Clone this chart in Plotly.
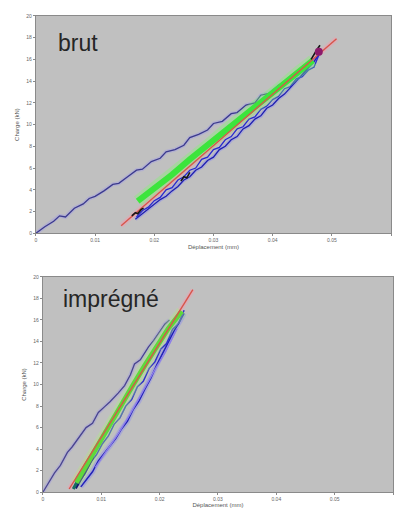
import plotly.graph_objects as go

# ---------------- data: top panel "brut" ----------------
top_first_x = [0, 0.0015, 0.003, 0.004, 0.005, 0.0065, 0.008, 0.009, 0.010, 0.0115, 0.013, 0.014, 0.0155,
               0.017, 0.018, 0.0195, 0.021, 0.022, 0.0235, 0.025, 0.026, 0.0275, 0.029, 0.030, 0.0315, 0.033,
               0.034, 0.0355, 0.037, 0.038, 0.0395, 0.041, 0.042, 0.0435, 0.045, 0.046, 0.0475]
top_first_y = [0, 0.6, 1.1, 1.6, 1.5, 2.3, 2.7, 3.2, 3.4, 3.9, 4.5, 4.6, 5.2, 5.8, 5.9, 6.6, 6.9, 7.5, 7.7,
               8.1, 8.8, 9.1, 9.5, 10.1, 10.3, 11.0, 11.1, 11.8, 12.0, 12.7, 12.9, 13.6, 13.8, 14.5, 14.9,
               15.4, 16.2]

top_blue_a_x = [0.0168, 0.018, 0.019, 0.020, 0.021, 0.022, 0.023, 0.024, 0.025, 0.026, 0.027, 0.028, 0.029,
                0.030, 0.031, 0.032, 0.033, 0.034, 0.035, 0.036, 0.037, 0.038, 0.039, 0.040, 0.041, 0.042,
                0.043, 0.044, 0.045, 0.046, 0.047, 0.048]
top_blue_a_y = [1.3, 1.8, 2.2, 2.6, 3.1, 3.4, 3.9, 4.3, 4.9, 5.2, 5.8, 6.1, 6.7, 7.0, 7.7, 8.0, 8.6, 8.9, 9.6,
                9.9, 10.5, 10.8, 11.5, 11.8, 12.4, 12.8, 13.4, 13.9, 14.5, 15.1, 15.8, 16.6]

top_blue_b_x = [0.0478, 0.047, 0.046, 0.045, 0.044, 0.043, 0.042, 0.041, 0.040, 0.039, 0.038, 0.037, 0.036,
                0.035, 0.034, 0.033, 0.032, 0.031, 0.030, 0.029, 0.028, 0.027, 0.026, 0.025, 0.024, 0.023,
                0.022, 0.021, 0.020, 0.019, 0.018, 0.017]
top_blue_b_y = [16.4, 15.3, 15.0, 14.4, 14.2, 13.5, 13.3, 12.6, 12.3, 11.7, 11.4, 10.7, 10.5, 9.8, 9.6, 8.9,
                8.6, 7.9, 7.7, 7.0, 6.8, 6.0, 5.8, 5.2, 4.9, 4.2, 4.0, 3.3, 3.0, 2.4, 2.1, 1.5]

top_black_x = [0.0162, 0.0168, 0.0172, 0.0178, 0.0182, None, 0.0245, 0.025, 0.0255, 0.026, None,
               0.0465, 0.047, 0.0475, 0.048]
top_black_y = [1.6, 1.9, 1.8, 2.2, 2.3, None, 4.8, 5.2, 5.1, 5.6, None, 16.0, 16.5, 16.9, 17.3]

top_green_x = [0.0172, 0.020, 0.023, 0.026, 0.029, 0.032, 0.035, 0.038, 0.041, 0.044, 0.0468]
top_green_y = [2.95, 4.1, 5.4, 6.8, 8.1, 9.5, 10.7, 12.0, 13.3, 14.7, 15.9]

top_fit_x = [0.0144, 0.0508]
top_fit_y = [0.7, 17.9]

top_end_x = [0.0478]
top_end_y = [16.7]

# ---------------- data: bottom panel "imprégné" ----------------
bot_first_x = [0, 0.001, 0.002, 0.003, 0.0042, 0.005, 0.006, 0.0074, 0.0085, 0.0095, 0.0105, 0.0115, 0.0129,
               0.014, 0.0150, 0.0157, 0.0167, 0.0175, 0.0181, 0.019, 0.020, 0.0209, 0.0217]
bot_first_y = [0, 0.9, 1.8, 2.5, 3.7, 4.2, 5.0, 6.0, 6.4, 7.4, 7.9, 8.4, 9.2, 9.9, 10.9, 11.9, 12.3, 13.0,
               13.5, 14.1, 14.9, 15.6, 16.0]

bot_green_x = [0.0057, 0.0075, 0.0095, 0.0115, 0.0135, 0.0155, 0.0175, 0.0195, 0.0215, 0.0238]
bot_green_y = [0.9, 2.6, 4.4, 6.3, 8.1, 10.0, 11.8, 13.6, 15.2, 16.8]

bot_blue_a_x = [0.0065, 0.0075, 0.0085, 0.0095, 0.0105, 0.0115, 0.0125, 0.0135, 0.0145, 0.0155, 0.0165,
                0.0175, 0.0185, 0.0195, 0.0205, 0.0215, 0.0225, 0.0235, 0.0242]
bot_blue_a_y = [0.5, 1.2, 1.9, 2.9, 3.6, 4.4, 5.0, 5.9, 6.6, 7.7, 8.5, 9.6, 10.6, 11.8, 12.9, 14.0, 15.0,
                15.9, 16.6]

bot_blue_b_x = [0.0242, 0.0232, 0.0222, 0.0212, 0.0202, 0.0192, 0.0182, 0.0172, 0.0162, 0.0152, 0.0142,
                0.0132, 0.0122, 0.0112, 0.0102, 0.0092, 0.0082, 0.0072, 0.0062]
bot_blue_b_y = [16.9, 15.6, 15.1, 13.8, 13.3, 12.1, 11.5, 10.3, 9.8, 8.6, 8.0, 6.9, 6.3, 5.2, 4.5, 3.5, 2.8,
                1.7, 1.0]

bot_violet_x = [0.009, 0.011, 0.013, 0.015, 0.017, 0.019, 0.021, 0.023]
bot_violet_y = [2.3, 3.9, 5.5, 7.3, 9.3, 11.2, 13.0, 15.2]

bot_navy_x = [0.0055, 0.0062, 0.007, 0.0078, 0.0085]
bot_navy_y = [0.4, 1.0, 1.8, 2.6, 3.3]

bot_teal_x = [0.0052, 0.0058, 0.0064]
bot_teal_y = [0.3, 0.9, 1.5]

bot_fit_x = [0.0045, 0.0257]
bot_fit_y = [0.3, 18.8]

# ---------------- axes ----------------
x_ticks = [0, 0.01, 0.02, 0.03, 0.04, 0.05, 0.06]
x_labels = ["0", "0.01", "0.02", "0.03", "0.04", "0.05", "0.06"]
y_ticks = [0, 2, 4, 6, 8, 10, 12, 14, 16, 18, 20]
y_labels = ["0", "2", "4", "6", "8", "10", "12", "14", "16", "18", "20"]

W, H = 394, 515

fig = go.Figure()


def line(x, y, color, width, xa, ya, opacity=1.0, mode="lines", marker=None):
    fig.add_trace(go.Scatter(x=x, y=y, mode=mode, xaxis=xa, yaxis=ya, opacity=opacity,
                             line=dict(color=color, width=width), marker=marker,
                             hoverinfo="skip", showlegend=False))


# top panel
line(top_first_x, top_first_y, "#a9a6da", 4, "x", "y", 0.6)
line(top_first_x, top_first_y, "#3b3a8e", 1.3, "x", "y")
line(top_fit_x, top_fit_y, "#f0a0b0", 5, "x", "y", 0.5)
line(top_blue_a_x, top_blue_a_y, "#8c8cf0", 4, "x", "y", 0.45)
line(top_blue_a_x, top_blue_a_y, "#1f1fb0", 1.3, "x", "y")
line(top_blue_b_x, top_blue_b_y, "#2a2ad0", 1.3, "x", "y")
line(top_green_x, top_green_y, "#7dfa6a", 12, "x", "y", 0.35)
line(top_green_x, top_green_y, "#3ce53c", 6, "x", "y")
line(top_fit_x, top_fit_y, "#d9534a", 1.4, "x", "y")
line(top_black_x, top_black_y, "#151515", 1.6, "x", "y")
line(top_end_x, top_end_y, "#8b1a6b", 1, "x", "y", mode="markers",
     marker=dict(color="#8b1a6b", size=8))

# bottom panel
line(bot_first_x, bot_first_y, "#aaa6d6", 4, "x2", "y2", 0.6)
line(bot_first_x, bot_first_y, "#4a4690", 1.3, "x2", "y2")
line(bot_fit_x, bot_fit_y, "#f0a0b0", 5, "x2", "y2", 0.5)
line(bot_blue_a_x, bot_blue_a_y, "#8c8cf0", 5, "x2", "y2", 0.45)
line(bot_blue_a_x, bot_blue_a_y, "#2323b8", 1.5, "x2", "y2")
line(bot_blue_b_x, bot_blue_b_y, "#3030c8", 1.5, "x2", "y2")
line(bot_violet_x, bot_violet_y, "#8d7ee8", 1.4, "x2", "y2")
line(bot_navy_x, bot_navy_y, "#141470", 4, "x2", "y2")
line(bot_teal_x, bot_teal_y, "#1a6e62", 3, "x2", "y2")
line(bot_green_x, bot_green_y, "#a8f080", 11, "x2", "y2", 0.35)
line(bot_green_x, bot_green_y, "#5fd83c", 5, "x2", "y2")
line(bot_fit_x, bot_fit_y, "#d9534a", 1.4, "x2", "y2")

axis_common = dict(showgrid=False, zeroline=False, showline=True, linecolor="#8a8a8a", linewidth=1,
                   mirror=True, ticks="outside", ticklen=2, tickcolor="#8a8a8a",
                   tickfont=dict(family="Liberation Sans", size=5, color="#666666"))
title_font = dict(family="Liberation Sans", size=6, color="#555555")

fig.update_layout(
    width=W, height=H,
    margin=dict(l=0, r=0, t=0, b=0),
    paper_bgcolor="white",
    plot_bgcolor="#c0c0c0",
    xaxis=dict(domain=[35 / W, 391 / W], range=[0, 0.06], tickvals=x_ticks, ticktext=x_labels,
               anchor="y", title=dict(text="Déplacement (mm)", standoff=2, font=title_font),
               **axis_common),
    yaxis=dict(domain=[1 - 233 / H, 1 - 13 / H], range=[0, 20], tickvals=y_ticks, ticktext=y_labels,
               anchor="x", title=dict(text="Charge (kN)", standoff=6, font=title_font),
               **axis_common),
    xaxis2=dict(domain=[42 / W, 393 / W], range=[0, 0.06], tickvals=x_ticks, ticktext=x_labels,
                anchor="y2", title=dict(text="Déplacement (mm)", standoff=1, font=title_font),
                **axis_common),
    yaxis2=dict(domain=[1 - 495 / H, 1 - 277 / H], range=[0, 20], tickvals=y_ticks, ticktext=y_labels,
                anchor="x2", title=dict(text="Charge (kN)", standoff=6, font=title_font),
                **axis_common),
    annotations=[
        dict(text="brut", xref="paper", yref="paper", x=55 / W, y=1 - 40 / H, xanchor="left",
             yanchor="middle", showarrow=False,
             font=dict(family="Liberation Sans", size=23, color="#262626")),
        dict(text="imprégné", xref="paper", yref="paper", x=60 / W, y=1 - 299 / H, xanchor="left",
             yanchor="middle", showarrow=False,
             font=dict(family="Liberation Sans", size=23, color="#262626")),
    ],
)

fig.write_html("out.html", config={"displayModeBar": False},
               post_script="document.body.style.margin='0';document.body.style.overflow='hidden';")
